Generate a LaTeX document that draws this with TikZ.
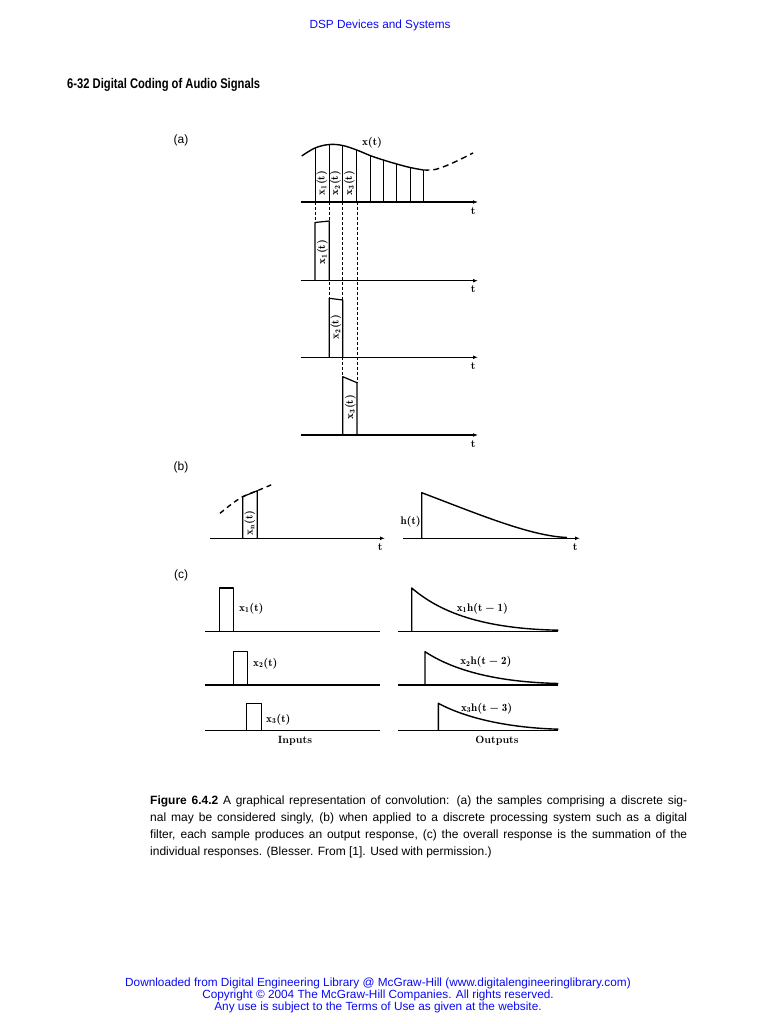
\documentclass[tikz,border=0pt]{standalone}
\usepackage{fontspec}
\setsansfont{Liberation Sans}
\newfontfamily\headfont[FakeStretch=0.8]{Liberation Sans}
\usetikzlibrary{arrows.meta,positioning,calc}
\definecolor{pageblue}{RGB}{10,10,245}

\begin{document}
\begin{tikzpicture}[>=Latex, x=1pt, y=-1pt, line join=round]

  % Styles
  \tikzset{
    axis/.style={line width=1.4pt, -{Latex[length=5pt,width=3.8pt]}},
    base/.style={line width=1.4pt},
    sample/.style={line width=0.9pt},
    pulse/.style={line width=1.2pt},
    proj/.style={line width=0.9pt, dash pattern=on 3pt off 2pt},
    sig/.style={font=\fontsize{11}{13}\selectfont\boldmath, inner sep=0pt},
    vlabel/.style={font=\fontsize{11}{13}\selectfont\boldmath, rotate=90, inner sep=0pt},
    tlabel/.style={font=\fontsize{11}{13}\selectfont\bfseries, inner sep=0pt},
    panel/.style={font=\sffamily\fontsize{12}{14}\selectfont, inner sep=0pt},
    pagetext/.style={text=pageblue, font=\sffamily\fontsize{11.8}{12}\selectfont, align=center, inner sep=0pt}
  }

  \useasboundingbox (0,0) rectangle (759,1024);

  % Page head
  \node[pagetext] (head) at (380,25) {DSP Devices and Systems};
  \node[anchor=west, inner sep=0pt, font=\headfont\bfseries\fontsize{14}{16}\selectfont] (section) at (67,85) {6-32 Digital Coding of Audio Signals};

  % (a) the samples of x(t)
  \node[panel] (la) at (181,140) {(a)};
  \foreach \name/\y in {a0/202, a1/280.7, a2/357.3, a3/435} {
    \coordinate (\name s) at (300.7,\y);
    \coordinate (\name e) at (478,\y);
    \draw[axis] (\name s) -- (\name e);
    \node[tlabel, below left=5pt and 2pt of \name e] (\name t) {t};
  }
  \draw[base] plot[smooth, tension=0.6] coordinates {(301.7,156) (315,148) (329.3,144.5) (342.7,145.5) (356.7,150) (370,155.5) (383.3,160) (396.7,164) (410,167.5) (423.3,170)};
  \draw[base, dash pattern=on 6pt off 4pt] plot[smooth, tension=0.6] coordinates {(423.3,170) (435,169.5) (448,165) (460,159.5) (473,153)};
  \foreach \x/\y in {315/148, 329.3/144.5, 342.7/145.5, 356.7/150, 370/155.5, 383.3/160, 396.7/164, 410/167.5, 423.3/170}
    \draw[sample] (\x,202) -- (\x,\y);
  \node[sig] (xt) at (372,143) {$\mathrm{x(t)}$};
  \node[vlabel] (xa1) at (322,183) {$\mathrm{x_1(t)}$};
  \node[vlabel] (xa2) at (335.5,183) {$\mathrm{x_2(t)}$};
  \node[vlabel] (xa3) at (349.5,183) {$\mathrm{x_3(t)}$};

  % projections down to the single samples
  \draw[proj] (315,202) -- (315,222.5);
  \draw[proj] (329.3,202) -- (329.3,298.3);
  \draw[proj] (342.7,202) -- (342.7,376.7);
  \draw[proj] (357,202) -- (357,382.7);

  \draw[pulse] (315,280.7) -- (315,222.5) -- (329.3,221) -- (329.3,280.7);
  \draw[pulse] (329.3,357.3) -- (329.3,298.3) -- (342.7,300) -- (342.7,357.3);
  \draw[pulse] (342.7,435) -- (342.7,376.7) -- (357,382.7) -- (357,435);
  \node[vlabel] (xs1) at (322.5,252) {$\mathrm{x_1(t)}$};
  \node[vlabel] (xs2) at (336,327) {$\mathrm{x_2(t)}$};
  \node[vlabel] (xs3) at (350.5,407) {$\mathrm{x_3(t)}$};

  % (b) one sample and the response h(t)
  \node[panel] (lb) at (181,467) {(b)};
  \coordinate (b1s) at (210,538.3);
  \coordinate (b1e) at (385,538.3);
  \coordinate (b2s) at (403.3,538.3);
  \coordinate (b2e) at (580,538.3);
  \draw[axis] (b1s) -- (b1e);
  \draw[axis] (b2s) -- (b2e);
  \node[tlabel, below left=5pt and 2pt of b1e] (b1t) {t};
  \node[tlabel, below left=5pt and 2pt of b2e] (b2t) {t};
  \draw[base, dash pattern=on 5pt off 4pt] plot[smooth] coordinates {(220,513.3) (231,504.5) (242.7,496.7) (257.3,490.7) (273.3,484)};
  \draw[pulse] (242.7,538.3) -- (242.7,496.7) -- (257.3,490.7) -- (257.3,538.3);
  \node[vlabel] (xn) at (250,523) {$\mathrm{x_n(t)}$};
  \draw[base] (421.7,538.3) -- (421.7,492.7) .. controls (478,514) and (530,536) .. (567,537.5);
  \node[sig, anchor=east] (ht) at (421,521.7) {$\mathrm{h(t)}$};

  % (c) inputs and outputs
  \node[panel] (lc) at (181,575) {(c)};
  \foreach \i/\y/\top/\px/\hx in {1/631.7/588/219.3/411.7, 2/685/651.7/233.3/425, 3/730.7/703.3/246.7/438.3} {
    \draw[base] (205,\y) -- (380,\y);
    \draw[base] (398.3,\y) -- (558.3,\y);
    \draw[pulse] (\px,\y) -- (\px,\top) -- (\px+14.5,\top) -- (\px+14.5,\y);
    \draw[base] (\hx,\y) -- (\hx,\top) .. controls (\hx+28,\top*0.45+\y*0.55) and (\hx+70,\y-3) .. (558.3,\y-1.5);
  }
  \node[sig, anchor=west] (in1) at (239,608.3) {$\mathrm{x_1(t)}$};
  \node[sig, anchor=west] (in2) at (253,663.5) {$\mathrm{x_2(t)}$};
  \node[sig, anchor=west] (in3) at (266,719.3) {$\mathrm{x_3(t)}$};
  \node[sig] (out1) at (482.5,608.3) {$\mathrm{x_1h(t-1)}$};
  \node[sig] (out2) at (486,661.7) {$\mathrm{x_2h(t-2)}$};
  \node[sig] (out3) at (486.7,708.3) {$\mathrm{x_3h(t-3)}$};
  \node[sig, font=\bfseries\fontsize{10.5}{12}\selectfont] (inputs) at (295,741) {Inputs};
  \node[sig, font=\bfseries\fontsize{10.5}{12}\selectfont] (outputs) at (497,741) {Outputs};

  % Caption
  \node[anchor=north west, inner sep=0pt, align=left, font=\sffamily\fontsize{12}{17}\selectfont] (caption) at (150,796) {%
    \makebox[537pt][s]{\textbf{Figure 6.4.2} A graphical representation of convolution: (a) the samples comprising a discrete sig-}\\
    \makebox[537pt][s]{nal may be considered singly, (b) when applied to a discrete processing system such as a digital}\\
    \makebox[537pt][s]{filter, each sample produces an output response, (c) the overall response is the summation of the}\\
    individual responses. (Blesser. From [1]. Used with permission.)};

  % Page foot
  \node[pagetext] (foot) at (378,995) {Downloaded from Digital Engineering Library @ McGraw-Hill (www.digitalengineeringlibrary.com)\\
    Copyright \textcopyright\ 2004 The McGraw-Hill Companies. All rights reserved.\\
    Any use is subject to the Terms of Use as given at the website.};

\end{tikzpicture}
\end{document}
